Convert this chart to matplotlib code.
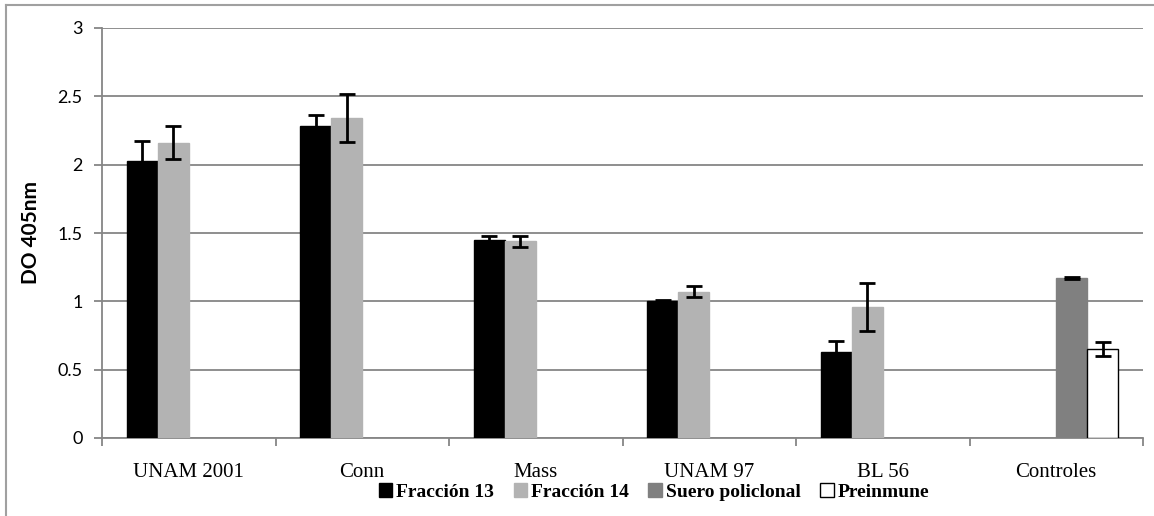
import numpy as np
import matplotlib
matplotlib.use('Agg')
import matplotlib.pyplot as plt
from matplotlib.lines import Line2D

# Values
categories = ['UNAM 2001', 'Conn', 'Mass', 'UNAM 97', 'BL 56', 'Controles']
series_names = ['Fracción 13', 'Fracción 14', 'Suero policlonal', 'Preinmune']
fraccion13 = [2.03, 2.28, 1.45, 1.00, 0.63, np.nan]
fraccion13_err = [0.14, 0.08, 0.03, 0.01, 0.08, np.nan]
fraccion14 = [2.16, 2.34, 1.44, 1.07, 0.96, np.nan]
fraccion14_err = [0.12, 0.175, 0.04, 0.04, 0.175, np.nan]
suero = [np.nan, np.nan, np.nan, np.nan, np.nan, 1.17]
suero_err = [np.nan, np.nan, np.nan, np.nan, np.nan, 0.005]
preinmune = [np.nan, np.nan, np.nan, np.nan, np.nan, 0.65]
preinmune_err = [np.nan, np.nan, np.nan, np.nan, np.nan, 0.05]
y_ticks = [0, 0.5, 1, 1.5, 2, 2.5, 3]
y_tick_labels = ['0', '0.5', '1', '1.5', '2', '2.5', '3']

fig = plt.figure(figsize=(11.54, 5.16), dpi=100)
ax = fig.add_axes([102 / 1154, 1 - 438 / 516, (1143 - 102) / 1154, (438 - 28) / 516])

grid_col = '#868686'
x = np.arange(len(categories)) + 0.5
w = 0.179
styles = [
    (fraccion13, fraccion13_err, '#000000', '#000000'),
    (fraccion14, fraccion14_err, '#b3b3b3', '#b3b3b3'),
    (suero, suero_err, '#808080', '#808080'),
    (preinmune, preinmune_err, '#ffffff', '#000000'),
]
for i, (vals, errs, fc, ec) in enumerate(styles):
    pos = x + (i - 1.5) * w
    ax.bar(pos, vals, width=w, color=fc, edgecolor=ec, linewidth=1.0,
           label=series_names[i], zorder=3)
    ax.errorbar(pos, vals, yerr=errs, fmt='none', ecolor='black',
                elinewidth=2, capsize=6, capthick=2, zorder=4)

ax.set_xlim(0, len(categories))
ax.set_ylim(0, 3)
ax.set_yticks(y_ticks)
ax.set_yticklabels(y_tick_labels, family='Lato', fontsize=13)
ax.yaxis.grid(True, color=grid_col, linewidth=1.3, zorder=0)
ax.set_axisbelow(True)

ax.set_xticks(np.arange(len(categories) + 1))
ax.set_xticklabels([])
ax.set_xticks(x, minor=True)
ax.set_xticklabels(categories, minor=True, family='Liberation Serif', fontsize=15)
ax.tick_params(axis='x', which='minor', length=0, pad=18)
ax.tick_params(axis='x', which='major', length=6, color=grid_col, width=1.3)
ax.tick_params(axis='y', length=6, color=grid_col, width=1.3, pad=8)

for s in ['top', 'right']:
    ax.spines[s].set_visible(False)
for s in ['left', 'bottom']:
    ax.spines[s].set_color(grid_col)
    ax.spines[s].set_linewidth(1.3)

ax.set_ylabel('DO 405nm', family='Lato', fontweight='bold', fontsize=15, labelpad=12)

leg = fig.legend(loc='center', bbox_to_anchor=(654 / 1154, 1 - 492 / 516), ncol=4,
                 frameon=False, handlelength=0.7, handleheight=0.7, handletextpad=0.2,
                 columnspacing=1.0, prop={'family': 'Liberation Serif', 'weight': 'bold', 'size': 14})

# outer chart border (left and top only visible)
fig.add_artist(Line2D([6 / 1154, 6 / 1154], [0, 1 - 5 / 516], color='#a0a0a0', linewidth=1.5))
fig.add_artist(Line2D([6 / 1154, 1], [1 - 5 / 516, 1 - 5 / 516], color='#a0a0a0', linewidth=1.5))

fig.savefig('out.png', dpi=100)
